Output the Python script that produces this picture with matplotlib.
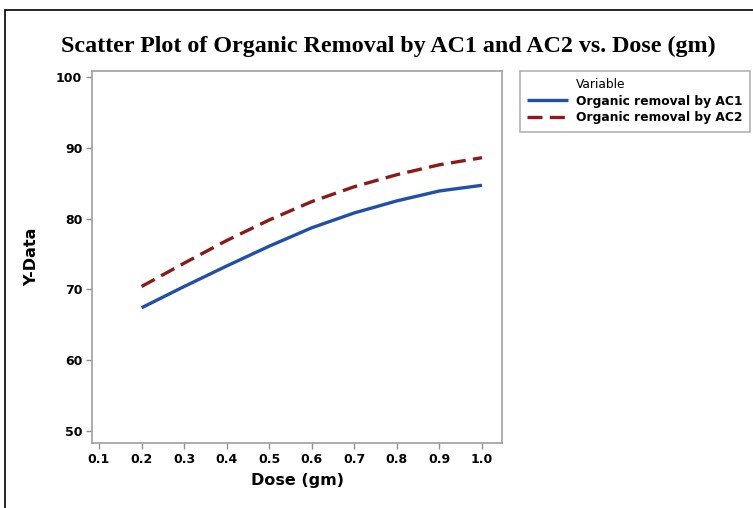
import matplotlib
matplotlib.use('Agg')
import matplotlib.pyplot as plt
from matplotlib.lines import Line2D
from matplotlib.patches import Rectangle

# data
dose = [0.2, 0.3, 0.4, 0.5, 0.6, 0.7, 0.8, 0.9, 1.0]
removal_ac1 = [67.4, 70.4, 73.3, 76.1, 78.7, 80.8, 82.5, 83.9, 84.7]
removal_ac2 = [70.4, 73.7, 76.9, 79.8, 82.4, 84.5, 86.2, 87.6, 88.6]
x_ticks = [0.1, 0.2, 0.3, 0.4, 0.5, 0.6, 0.7, 0.8, 0.9, 1.0]
y_ticks = [50, 60, 70, 80, 90, 100]

fig = plt.figure(figsize=(7.53, 5.08), dpi=100)
ax = fig.add_axes([0.1222, 0.128, 0.5445, 0.7323])

ax.plot(dose, removal_ac1, color='#2250a8', lw=2.4, solid_capstyle='butt',
        solid_joinstyle='round', label='Organic removal by AC1')
ax.plot(dose, removal_ac2, color='#8c1a1a', lw=2.4, dashes=(4.5, 2.2),
        label='Organic removal by AC2')

ax.set_xlim(0.0836, 1.047)
ax.set_ylim(48.3, 100.85)
ax.set_xticks(x_ticks)
ax.set_xticklabels([f'{v:.1f}' for v in x_ticks], fontsize=9, fontweight='bold')
ax.set_yticks(y_ticks)
ax.set_yticklabels([str(v) for v in y_ticks], fontsize=9, fontweight='bold')
ax.tick_params(direction='out', length=4, color='#909090', width=1, pad=3)
for s in ax.spines.values():
    s.set_color('#a0a0a0')
    s.set_linewidth(1.2)

ax.set_xlabel('Dose (gm)', fontsize=11.5, fontweight='bold', labelpad=5)
ax.set_ylabel('Y-Data', fontsize=11.5, fontweight='bold', labelpad=12)

fig.text(0.516, 0.909, 'Scatter Plot of Organic Removal by AC1 and AC2 vs. Dose (gm)',
         ha='center', va='center', fontsize=17.3, fontweight='bold',
         family='Liberation Serif')

# legend: "Variable" header as a blank entry so it lines up with the labels
handles, labels = ax.get_legend_handles_labels()
blank = Line2D([], [], color='none')
leg = ax.legend([blank] + handles, ['Variable'] + labels, loc='upper left',
                bbox_to_anchor=(520 / 753, 1 - 71 / 508),
                bbox_transform=fig.transFigure, borderaxespad=0,
                fancybox=False, edgecolor='#a0a0a0', handlelength=3.3,
                prop={'weight': 'bold', 'size': 8.8},
                borderpad=0.6, labelspacing=0.28, handletextpad=0.7)
leg.get_frame().set_linewidth(1.2)
leg.get_texts()[0].set_fontweight('normal')

# outer border (only top and left edges visible in the reference)
fig.patches.append(Rectangle((5 / 753, -0.1), 1.2, 1 - 10 / 508 + 0.1,
                             transform=fig.transFigure, fill=False,
                             edgecolor='black', lw=1.2))

fig.savefig('out.png', dpi=100)
